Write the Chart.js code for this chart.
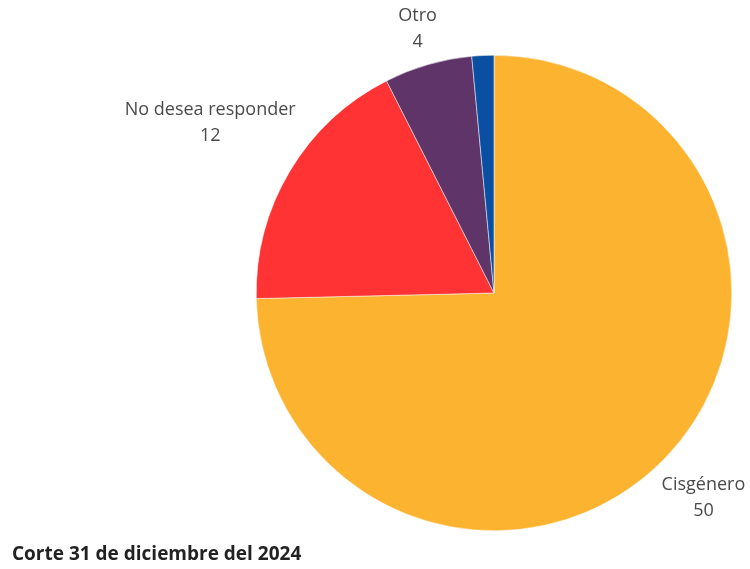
<!DOCTYPE html>
<html>
<head>
<meta charset="utf-8">
<script src="https://cdn.jsdelivr.net/npm/chart.js@4/dist/chart.umd.min.js"></script>
<style>
  body { margin: 0; background: #fff; }
  #wrap { position: relative; width: 750px; height: 569px; }
  #nota {
    position: absolute; left: 12px; top: 540px; line-height: 26px;
    font-family: "Open Sans", sans-serif; font-weight: 700; font-size: 19px; color: #222;
  }
</style>
</head>
<body>
<div id="wrap">
  <canvas id="generoChart" width="750" height="569"></canvas>
  <div id="nota">Corte 31 de diciembre del 2024</div>
</div>
<script>
const categorias = ['Cisgénero', 'No desea responder', 'Otro', 'Transgénero'];
const valores = [50, 12, 4, 1];
const colores = ['#FBB330', '#FF3333', '#5E3469', '#0B4FA3'];

// labels outside each slice: name on top, value below.
// the box centre slides out along the slice's mid-angle until it clears the circle
const etiquetasFuera = {
  id: 'etiquetasFuera',
  afterDatasetsDraw(chart) {
    const ctx = chart.ctx;
    const meta = chart.getDatasetMeta(0);
    const total = valores.reduce((a, b) => a + b, 0);
    const lineH = 26;
    const gap = 7;
    ctx.save();
    ctx.font = '18px "Open Sans", sans-serif';
    ctx.fillStyle = '#4a4a4a';
    ctx.textAlign = 'center';
    ctx.textBaseline = 'middle';
    meta.data.forEach((arc, i) => {
      if (valores[i] / total < 0.03) return;
      const mid = (arc.startAngle + arc.endAngle) / 2;
      const cos = Math.cos(mid), sin = Math.sin(mid);
      const w = Math.max(ctx.measureText(categorias[i]).width, ctx.measureText(String(valores[i])).width);
      const h = lineH * 2;
      let t = arc.outerRadius;
      let cx, cy;
      for (; t < arc.outerRadius + 400; t += 0.5) {
        cx = arc.x + t * cos;
        cy = arc.y + t * sin;
        const nx = Math.min(Math.max(arc.x, cx - w / 2), cx + w / 2);
        const ny = Math.min(Math.max(arc.y, cy - h / 2), cy + h / 2);
        if (Math.hypot(nx - arc.x, ny - arc.y) >= arc.outerRadius + gap) break;
      }
      ctx.fillText(categorias[i], cx, cy - lineH / 2);
      ctx.fillText(String(valores[i]), cx, cy + lineH / 2);
    });
    ctx.restore();
  }
};

new Chart(document.getElementById('generoChart'), {
  type: 'pie',
  data: {
    labels: categorias,
    datasets: [{
      data: valores,
      backgroundColor: colores,
      borderColor: '#fff',
      borderWidth: 0.5
    }]
  },
  options: {
    responsive: false,
    animation: false,
    layout: { padding: { top: 55, bottom: 38, left: 256, right: 18 } },
    plugins: {
      legend: { display: false },
      tooltip: { enabled: false }
    }
  },
  plugins: [etiquetasFuera]
});
</script>
</body>
</html>
